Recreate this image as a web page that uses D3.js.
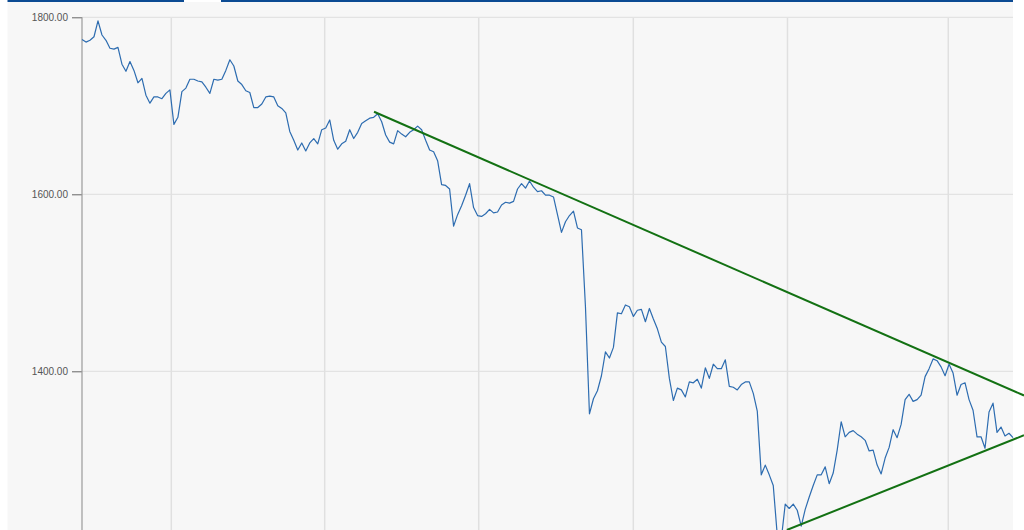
<!DOCTYPE html>
<html><head><meta charset="utf-8">
<script src="https://cdn.jsdelivr.net/npm/d3@7"></script>
<style>body{margin:0;background:#fff;} svg{display:block;font-family:"Liberation Sans",Arial,sans-serif;}</style>
</head><body><svg id="c" width="1024" height="530"></svg>
<script>
// Daily closing values (trading-day index 0..233)
const values = [
1775,1772,1774,1778,1796,1780,1774,1765,1764,1766,
1747,1739,1750,1740,1726,1731,1712,1703,1710,1710,
1708,1714,1718,1679,1687,1716,1720,1730,1730,1728,
1727,1721,1714,1730,1729,1730,1740,1752,1745,1728,
1724,1717,1715,1698,1698,1702,1710,1711,1710,1700,
1697,1692,1671,1661,1650,1658,1649,1658,1663,1657,
1673,1675,1684,1661,1651,1657,1660,1673,1663,1670,
1680,1683,1686,1687,1691,1682,1667,1659,1657,1672,
1668,1665,1670,1673,1677,1673,1661,1650,1648,1638,
1611,1610,1606,1564,1577,1587,1599,1612,1585,1576,
1575,1578,1583,1579,1580,1588,1591,1590,1592,1606,
1612,1607,1615,1608,1603,1604,1599,1599,1597,1577,
1557,1569,1576,1581,1562,1560,1473,1352,1369,1378,
1395,1422,1415,1427,1466,1465,1475,1473,1462,1469,
1470,1456,1471,1459,1448,1433,1428,1392,1367,1381,
1379,1371,1388,1387,1391,1381,1404,1392,1408,1403,
1403,1413,1383,1382,1379,1385,1388,1388,1375,1355,
1283,1294,1283,1271,1215,1210,1250,1245,1250,1243,
1225,1244,1258,1271,1283,1283,1292,1273,1285,1311,
1343,1326,1331,1333,1329,1326,1322,1310,1311,1294,
1284,1302,1314,1334,1325,1340,1368,1374,1366,1368,
1373,1394,1403,1414,1412,1405,1395,1408,1398,1373,
1385,1387,1368,1356,1326,1326,1313,1354,1364,1331,
1337,1327,1330,1325
];
const yTicks = [1400, 1600, 1800];
const xGridIdx = [22.35, 60.74, 99.28, 137.97, 176.56, 216.8];
const resistance = [[73.08, 1693.3], [235.75, 1372.7]];
const support = [[176.4, 1220.7], [235.75, 1327.7]];

const svg = d3.select("#c");
const W = 1024, H = 530;
const x = d3.scaleLinear().domain([0, values.length - 1]).range([82, 1013]);
const y = d3.scaleLinear().domain([1400, 1800]).range([371.3, 17.3]);

// panel background
svg.append("rect").attr("x", 7.5).attr("y", 2).attr("width", 1013 - 7.5).attr("height", H).attr("fill", "#f7f7f7");
// top bar with tab gap
svg.append("rect").attr("x", 7.5).attr("y", 0).attr("width", 184 - 7.5).attr("height", 2).attr("fill", "#0c4b93");
svg.append("rect").attr("x", 221).attr("y", 0).attr("width", 1013 - 221).attr("height", 2).attr("fill", "#0c4b93");

// gridlines
svg.append("g").selectAll("line").data(yTicks).join("line")
  .attr("x1", 82).attr("x2", 1013).attr("y1", d => y(d)).attr("y2", d => y(d))
  .attr("stroke", "#dedede").attr("stroke-width", 1);
svg.append("g").selectAll("line").data(xGridIdx).join("line")
  .attr("x1", d => x(d)).attr("x2", d => x(d)).attr("y1", 18).attr("y2", H)
  .attr("stroke", "#e0e0e0").attr("stroke-width", 1.5);

// y axis
const axis = d3.axisLeft(y).tickValues(yTicks).tickFormat(d3.format(".2f")).tickSize(10).tickPadding(4);
const ag = svg.append("g").attr("transform", "translate(82,0)").call(axis);
ag.select(".domain").remove();
ag.selectAll(".tick line").attr("stroke", "#666");
ag.selectAll(".tick text").attr("fill", "#555").style("font-size", "10px").style("font-family", "\"Liberation Sans\",Arial,sans-serif");
svg.append("line").attr("x1", 82).attr("x2", 82).attr("y1", 17.3).attr("y2", H)
  .attr("stroke", "#9a9a9a").attr("stroke-width", 1.2);

// price line
const line = d3.line().x((d, i) => x(i)).y(d => y(d));
svg.append("path").datum(values).attr("d", line)
  .attr("fill", "none").attr("stroke", "#2d6cb0").attr("stroke-width", 1.2).attr("stroke-linejoin", "round");

// trend lines
const tl = d3.line().x(d => x(d[0])).y(d => y(d[1]));
[resistance, support].forEach(t => {
  svg.append("path").datum(t).attr("d", tl)
    .attr("fill", "none").attr("stroke", "#137113").attr("stroke-width", 2);
});
</script></body></html>
